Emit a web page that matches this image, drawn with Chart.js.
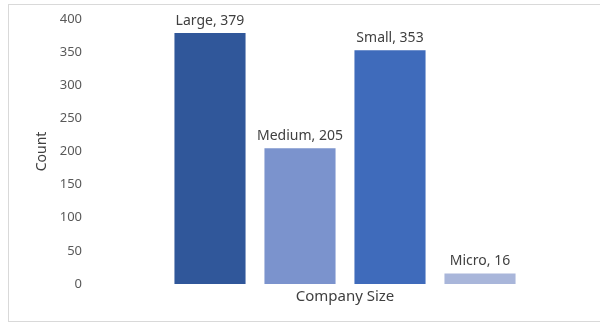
<!DOCTYPE html>
<html>
<head>
<meta charset="utf-8">
<script src="https://cdn.jsdelivr.net/npm/chart.js@4/dist/chart.umd.min.js"></script>
<style>
    html, body { margin: 0; padding: 0; background: #fff; }
    #wrap { position: relative; width: 600px; height: 322px; overflow: hidden; }
    #frame { position: absolute; left: 8px; top: 4px; width: 640px; height: 316px; border: 1px solid #d9d9d9; }
    #chart { position: absolute; left: 0; top: 0; }
</style>
</head>
<body>
<div id="wrap">
    <div id="frame"></div>
    <canvas id="chart" width="600" height="322"></canvas>
</div>
<script>
const categories = ['Large', 'Medium', 'Small', 'Micro'];
const counts = [379, 205, 353, 16];
const barColors = ['#30579a', '#7b93cd', '#3f6bbb', '#a9b6da'];
const yTicks = [0, 50, 100, 150, 200, 250, 300, 350, 400];

const font = "'Noto Sans', 'Open Sans', sans-serif";

// "Large, 379" style labels above each bar
const barLabels = {
    id: 'barLabels',
    afterDatasetsDraw(chart) {
        const ctx = chart.ctx;
        const meta = chart.getDatasetMeta(0);
        ctx.save();
        ctx.font = '14px ' + font;
        ctx.fillStyle = '#404040';
        ctx.textAlign = 'center';
        ctx.textBaseline = 'alphabetic';
        meta.data.forEach((bar, i) => {
            ctx.fillText(categories[i] + ', ' + counts[i], bar.x, bar.y - 8);
        });
        ctx.restore();
    }
};

new Chart(document.getElementById('chart'), {
    type: 'bar',
    data: {
        labels: categories,
        datasets: [{
            label: 'Count',
            data: counts,
            backgroundColor: barColors,
            borderWidth: 0,
            categoryPercentage: 1,
            barPercentage: 0.79
        }]
    },
    options: {
        responsive: false,
        animation: false,
        layout: {
            padding: { left: 30, right: 75, top: 19, bottom: 12 }
        },
        plugins: {
            legend: { display: false },
            tooltip: { enabled: false }
        },
        scales: {
            x: {
                grid: { display: false, drawTicks: false },
                border: { display: false },
                ticks: { display: false },
                title: {
                    display: true,
                    text: 'Company Size',
                    color: '#404040',
                    font: { family: font, size: 15 },
                    padding: { top: 4, bottom: 4 }
                }
            },
            y: {
                min: 0,
                max: 400,
                afterBuildTicks(scale) {
                    scale.ticks = yTicks.map(v => ({ value: v }));
                },
                afterFit(scale) {
                    // wide gap between labels and bars, without the vertical padding
                    scale.width = 135;
                    scale.paddingTop = 8;
                    scale.paddingBottom = 8;
                },
                grid: { display: false, drawTicks: false },
                border: { display: false },
                ticks: {
                    padding: 83,
                    color: '#595959',
                    font: { family: font, size: 13 }
                },
                title: {
                    display: true,
                    text: 'Count',
                    color: '#404040',
                    font: { family: font, size: 14 },
                    padding: { top: 4, bottom: 4 }
                }
            }
        }
    },
    plugins: [barLabels]
});
</script>
</body>
</html>
